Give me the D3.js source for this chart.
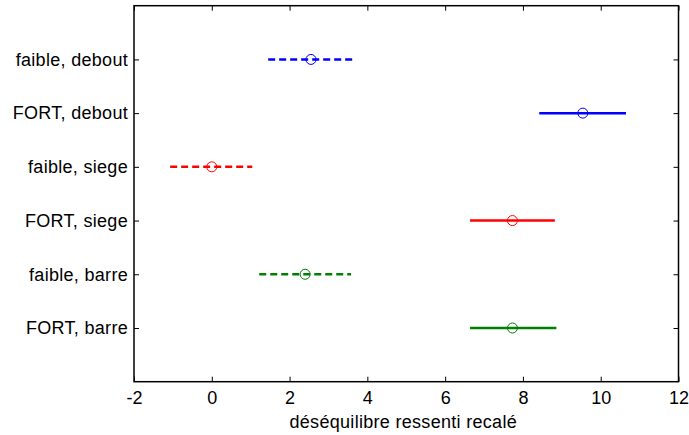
<!DOCTYPE html>
<html><head><meta charset="utf-8">
<script src="https://cdn.jsdelivr.net/npm/d3@7"></script>
<style>body{margin:0;background:#fff}svg{display:block}text{font-family:"Liberation Sans",Arial,sans-serif;fill:#000}</style>
</head><body><svg id="c" width="689" height="435"></svg>
<script>
const categories = ["faible, debout","FORT, debout","faible, siege","FORT, siege","faible, barre","FORT, barre"];
const centers = [2.55, 9.54, 0.0, 7.73, 2.40, 7.73];
const lows    = [1.45, 8.42, -1.07, 6.64, 1.22, 6.64];
const highs   = [3.64, 10.65, 1.04, 8.82, 3.58, 8.86];
const colors  = ["#0000ff","#0000ff","#ff0000","#ff0000","#008000","#008000"];
const dashed  = [true,false,true,false,true,false];
const xTicks = [-2,0,2,4,6,8,10,12];
const xLabel = "déséquilibre ressenti recalé";

const svg = d3.select("#c");
const L=134, R=678.5, T=5.7, B=381.7;
const FS = 18, LS = 0.3;
const x = d3.scaleLinear().domain([-2,12]).range([L,R]);
const y = d3.scaleLinear().domain([0,7]).range([B,T]);
const ypos = i => y(6-i);

const g = svg.append("g");
const ax = d3.axisBottom(x).tickValues(xTicks).tickSizeInner(-5).tickSizeOuter(0).tickPadding(10).tickFormat(d=>String(d));
const gx = g.append("g").attr("transform",`translate(0,${B})`).call(ax);
gx.select(".domain").remove();
gx.selectAll("text").attr("font-size",FS).attr("font-family","Liberation Sans, Arial, sans-serif");
const axT = d3.axisTop(x).tickValues(xTicks).tickSizeInner(-5).tickSizeOuter(0).tickFormat("");
const gxt = g.append("g").attr("transform",`translate(0,${T})`).call(axT);
gxt.select(".domain").remove();

const yv = categories.map((c,i)=>6-i);
const ayl = d3.axisLeft(y).tickValues(yv).tickSizeInner(-5).tickSizeOuter(0).tickPadding(6).tickFormat(v=>categories[6-v]);
const gy = g.append("g").attr("transform",`translate(${L},0)`).call(ayl);
gy.select(".domain").remove();
gy.selectAll("text").attr("font-size",FS).attr("letter-spacing",LS).attr("font-family","Liberation Sans, Arial, sans-serif");
const ayr = d3.axisRight(y).tickValues(yv).tickSizeInner(-5).tickSizeOuter(0).tickFormat("");
const gyr = g.append("g").attr("transform",`translate(${R},0)`).call(ayr);
gyr.select(".domain").remove();
g.selectAll(".tick line").attr("stroke","#000").attr("stroke-width",1);

g.append("rect").attr("x",L).attr("y",T).attr("width",R-L).attr("height",B-T)
 .attr("fill","none").attr("stroke","#000").attr("stroke-width",1.5);

const data = categories.map((c,i)=>({c,i,m:centers[i],lo:lows[i],hi:highs[i],col:colors[i],d:dashed[i]}));
g.selectAll("line.err").data(data).join("line").attr("class","err")
 .attr("x1",d=>x(d.lo)).attr("x2",d=>x(d.hi))
 .attr("y1",d=>ypos(d.i)).attr("y2",d=>ypos(d.i))
 .attr("stroke",d=>d.col).attr("stroke-width",2.5)
 .attr("stroke-dasharray",d=>d.d?"7,4":null);
g.selectAll("circle.m").data(data).join("circle").attr("class","m")
 .attr("cx",d=>x(d.m)).attr("cy",d=>ypos(d.i)).attr("r",5)
 .attr("fill","none").attr("stroke",d=>d.col).attr("stroke-width",1);

svg.append("text").attr("x",(L+R)/2-3).attr("y",428).attr("text-anchor","middle")
 .attr("font-size",FS).attr("letter-spacing",LS).text(xLabel);
</script></body></html>
